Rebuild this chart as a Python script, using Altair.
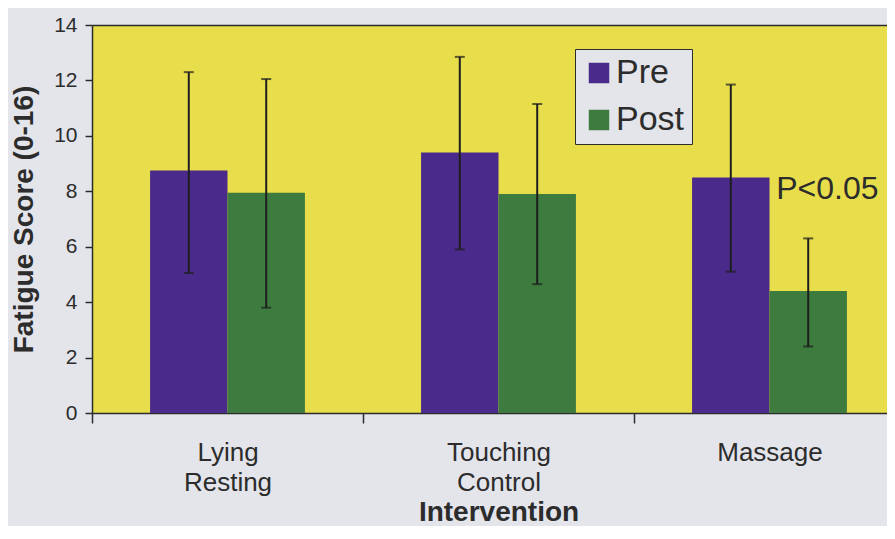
import altair as alt
import pandas as pd

# ---- data ----
categories = ["Lying Resting", "Touching Control", "Massage"]
phases = ["Pre", "Post"]
pre_mean = [8.75, 9.4, 8.5]
post_mean = [7.95, 7.9, 4.4]
pre_upper = [12.3, 12.85, 11.85]
pre_lower = [5.05, 5.9, 5.1]
post_upper = [12.05, 11.15, 6.3]
post_lower = [3.8, 4.65, 2.4]
y_ticks = [0, 2, 4, 6, 8, 10, 12, 14]
note_text = ["P<0.05"]
note_category = ["Massage"]
note_phase = ["Post"]
note_value = [8.1]

rows = []
for i, c in enumerate(categories):
    rows.append({"cat": c, "phase": "Pre", "mean": pre_mean[i], "lo": pre_lower[i], "hi": pre_upper[i]})
    rows.append({"cat": c, "phase": "Post", "mean": post_mean[i], "lo": post_lower[i], "hi": post_upper[i]})
df = pd.DataFrame(rows)
note_df = pd.DataFrame({"cat": note_category, "phase": note_phase, "y": note_value, "text": note_text})

# ---- style ----
FONT = "Liberation Sans"
PURPLE = "#4a2b8c"
GREEN = "#3e7b3f"
YELLOW = "#e8dd4b"
BG = "#e3e5eb"
INK = "#2c2c2c"

x_scale = alt.Scale(domain=categories, paddingInner=0, paddingOuter=0, range=[0, 813])
xo_scale = alt.Scale(domain=phases, paddingInner=0, paddingOuter=0.75)
y_scale = alt.Scale(domain=[0, 14], nice=False)

x_axis = alt.Axis(
    title="Intervention", labelExpr="split(datum.label, ' ')", labelAngle=0,
    labelFont=FONT, labelFontSize=26, labelLineHeight=30, labelColor=INK, labelPadding=16,
    titleFont=FONT, titleFontSize=28, titleFontWeight="bold", titleColor=INK, titlePadding=3,
    tickBand="extent", tickSize=10, tickColor=INK, tickWidth=1.5,
    domainColor=INK, domainWidth=1.5,
)
y_axis = alt.Axis(
    title="Fatigue Score (0-16)", values=y_ticks, grid=False,
    labelFont=FONT, labelFontSize=21, labelColor=INK, labelPadding=8,
    titleFont=FONT, titleFontSize=28, titleFontWeight="bold", titleColor=INK, titlePadding=15,
    tickSize=7, tickColor=INK, tickWidth=1.5, domainColor=INK, domainWidth=1.5,
)
top_axis = alt.Axis(orient="top", labels=False, ticks=False, title=None,
                    domainColor=INK, domainWidth=1.5)

legend = alt.Legend(
    title=None, orient="none", legendX=483, legendY=24, direction="vertical",
    symbolType="square", symbolSize=420, symbolStrokeWidth=0, symbolOpacity=1,
    symbolOffset=0,
    labelFont=FONT, labelFontSize=34, labelColor=INK, labelOffset=0,
    fillColor=BG, strokeColor=INK, padding=7, rowPadding=13,
)

bars = alt.Chart(df).mark_bar(opacity=1).encode(
    x=alt.X("cat:N", scale=x_scale, axis=x_axis, sort=categories),
    xOffset=alt.XOffset("phase:N", scale=xo_scale, sort=phases),
    y=alt.Y("mean:Q", scale=y_scale, axis=y_axis),
    color=alt.Color("phase:N", scale=alt.Scale(domain=phases, range=[PURPLE, GREEN]),
                    legend=legend, sort=phases),
)

rules = alt.Chart(df).mark_rule(color="#1e1e1e", strokeWidth=2).encode(
    x=alt.X("cat:N", axis=top_axis, sort=categories),
    xOffset=alt.XOffset("phase:N", sort=phases),
    y=alt.Y("lo:Q"),
    y2="hi:Q",
)
caps_lo = alt.Chart(df).mark_tick(color="#1e1e1e", size=10, thickness=2).encode(
    x=alt.X("cat:N", axis=None, sort=categories),
    xOffset=alt.XOffset("phase:N", sort=phases),
    y=alt.Y("lo:Q"),
)
caps_hi = alt.Chart(df).mark_tick(color="#1e1e1e", size=10, thickness=2).encode(
    x=alt.X("cat:N", axis=None, sort=categories),
    xOffset=alt.XOffset("phase:N", sort=phases),
    y=alt.Y("hi:Q"),
)
note = alt.Chart(note_df).mark_text(
    align="left", baseline="middle", dx=-32, font=FONT, fontSize=32, color=INK
).encode(
    x=alt.X("cat:N", axis=None, sort=categories),
    xOffset=alt.XOffset("phase:N", sort=phases),
    y=alt.Y("y:Q"),
    text="text:N",
)

chart = (
    alt.layer(bars, rules, caps_lo, caps_hi, note)
    .resolve_axis(x="independent")
    .properties(
        width=795, height=388, background=BG,
        padding={"left": 84, "top": 17, "right": 0, "bottom": 113},
        autosize=alt.AutoSizeParams(type="none"),
    )
    .configure_view(fill=YELLOW, stroke=None)
)

chart.save("out.html", embed_options={"renderer": "svg", "actions": False})
